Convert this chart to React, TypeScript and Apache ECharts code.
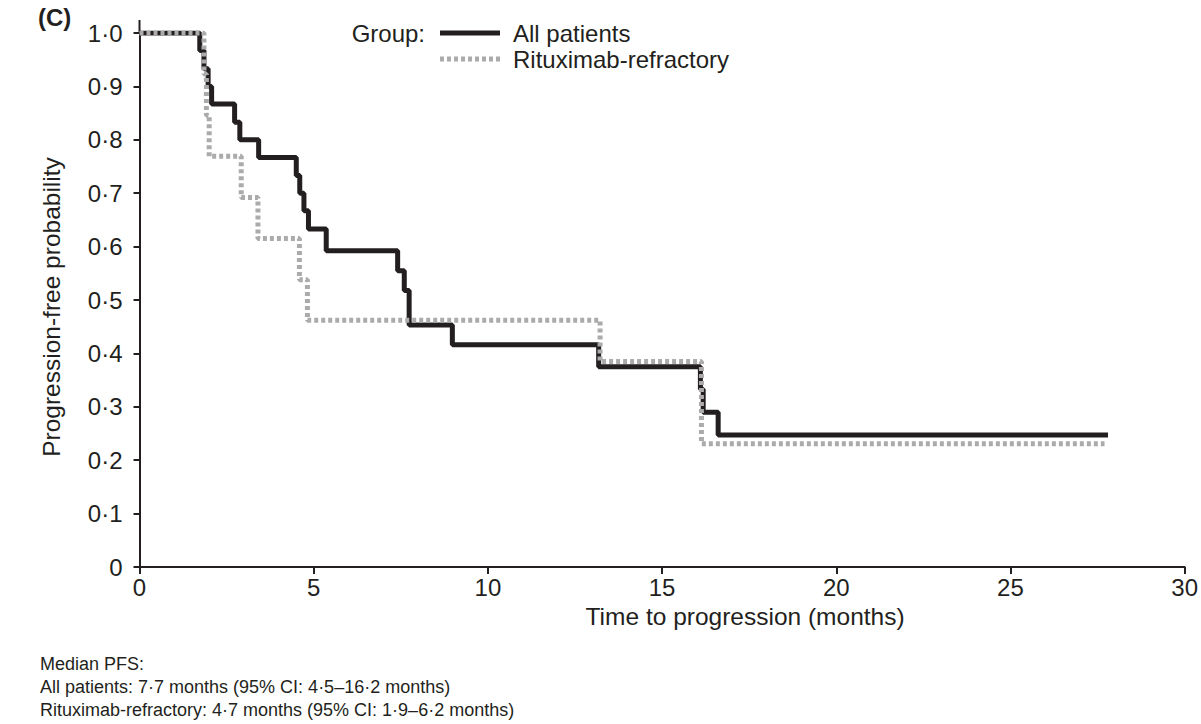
import React, { useEffect, useRef } from 'react';
import * as echarts from 'echarts';

// Kaplan-Meier step data (time in months, progression-free probability)
const allTimes = [0, 1.73, 1.85, 1.97, 2.07, 2.73, 2.88, 3.42, 4.5, 4.6, 4.72, 4.85, 5.36, 7.41, 7.6, 7.74, 8.98, 13.18, 16.1, 16.18, 16.61, 27.8];
const allSurv = [1, 0.967, 0.933, 0.9, 0.867, 0.833, 0.8, 0.767, 0.733, 0.7, 0.667, 0.633, 0.592, 0.555, 0.518, 0.453, 0.416, 0.375, 0.333, 0.29, 0.247, 0.247];
const rtxTimes = [0, 1.85, 1.92, 2.0, 2.92, 3.4, 4.59, 4.82, 13.22, 16.13, 27.7];
const rtxSurv = [1, 0.923, 0.846, 0.769, 0.692, 0.615, 0.538, 0.462, 0.385, 0.231, 0.231];

const seriesNames = ['All patients', 'Rituximab-refractory'];
const panelLabel = '(C)';
const legendTitle = 'Group:';
const xAxisName = 'Time to progression (months)';
const yAxisName = 'Progression-free probability';
const footnotes = [
  'Median PFS:',
  'All patients: 7·7 months (95% CI: 4·5–16·2 months)',
  'Rituximab-refractory: 4·7 months (95% CI: 1·9–6·2 months)',
];

const FONT = '"Liberation Sans", Arial, Helvetica, sans-serif';
const INK = '#231f20';
const GREY = '#ababab';
const DOTS = [4, 3];

export default function App() {
  const ref = useRef<HTMLDivElement>(null);
  useEffect(() => {
    if (!ref.current) return;
    const chart = echarts.init(ref.current, undefined, { renderer: 'svg' });
    const allData = allTimes.map((t, i) => [t, allSurv[i]]);
    const rtxData = rtxTimes.map((t, i) => [t, rtxSurv[i]]);
    const gridLeft = 139.5;
    const gridTop = 33;
    const legendX = 440;
    const legendRows = [33, 59];
    const seriesStyles = [
      { stroke: INK, lineWidth: 5 },
      { stroke: GREY, lineWidth: 5, lineDash: DOTS },
    ];
    chart.setOption({
      animation: false,
      backgroundColor: '#ffffff',
      textStyle: { fontFamily: FONT },
      grid: { left: gridLeft, right: 13, top: gridTop, bottom: 157, containLabel: false },
      xAxis: {
        type: 'value',
        min: 0,
        max: 30,
        interval: 5,
        name: xAxisName,
        nameLocation: 'middle',
        nameGap: 29,
        nameTextStyle: { fontSize: 24.5, color: INK, fontFamily: FONT, padding: [0, 0, 0, 166] },
        axisLine: { show: true, lineStyle: { color: INK, width: 2 } },
        axisTick: { show: true, length: 7, inside: false, lineStyle: { color: INK, width: 2 } },
        axisLabel: { fontSize: 24, color: INK, margin: 8, fontFamily: FONT },
        splitLine: { show: false },
      },
      yAxis: {
        type: 'value',
        min: 0,
        max: 1,
        interval: 0.1,
        name: yAxisName,
        nameLocation: 'middle',
        nameGap: 76,
        nameTextStyle: { fontSize: 24.5, color: INK, fontFamily: FONT, padding: [0, 14, 0, 0] },
        axisLine: { show: true, lineStyle: { color: INK, width: 2 } },
        axisTick: { show: true, length: 6, inside: false, lineStyle: { color: INK, width: 2 } },
        axisLabel: {
          fontSize: 24,
          color: INK,
          margin: 17,
          fontFamily: FONT,
          formatter: (v: number) => (v === 0 ? '0' : v.toFixed(1).replace('.', '·')),
        },
        splitLine: { show: false },
      },
      series: [
        {
          name: seriesNames[0],
          type: 'line',
          step: 'end',
          data: allData,
          showSymbol: false,
          symbol: 'none',
          lineStyle: { color: INK, width: 5 },
          itemStyle: { color: INK },
          z: 2,
        },
        {
          name: seriesNames[1],
          type: 'line',
          step: 'end',
          data: rtxData,
          showSymbol: false,
          symbol: 'none',
          lineStyle: { color: GREY, width: 5, type: DOTS },
          itemStyle: { color: GREY },
          z: 3,
        },
      ],
      graphic: [
        {
          type: 'line',
          shape: { x1: gridLeft, y1: 20, x2: gridLeft, y2: gridTop },
          style: { stroke: INK, lineWidth: 2 },
        },
        {
          type: 'text',
          x: 38,
          y: 17,
          style: { text: panelLabel, fontSize: 24, fontWeight: 'bold', fill: INK, fontFamily: FONT, verticalAlign: 'middle' },
        },
        {
          type: 'text',
          x: 425,
          y: legendRows[0],
          style: { text: legendTitle, fontSize: 24, fill: INK, fontFamily: FONT, align: 'right', verticalAlign: 'middle' },
        },
        ...seriesNames.flatMap((name, i) => [
          {
            type: 'line',
            shape: { x1: legendX, y1: legendRows[i], x2: legendX + 60, y2: legendRows[i] },
            style: seriesStyles[i],
          },
          {
            type: 'text',
            x: legendX + 73,
            y: legendRows[i],
            style: { text: name, fontSize: 24, fill: INK, fontFamily: FONT, align: 'left', verticalAlign: 'middle' },
          },
        ]),
        ...footnotes.map((t, i) => ({
          type: 'text',
          x: 40,
          y: 664 + i * 23,
          style: { text: t, fontSize: 18, fill: INK, fontFamily: FONT, align: 'left', verticalAlign: 'middle' },
        })),
      ],
    });
    return () => chart.dispose();
  }, []);
  return (
    <div
      ref={ref}
      style={{ position: 'fixed', left: 0, top: 0, width: 1201, height: 724, background: '#fff' }}
    />
  );
}
